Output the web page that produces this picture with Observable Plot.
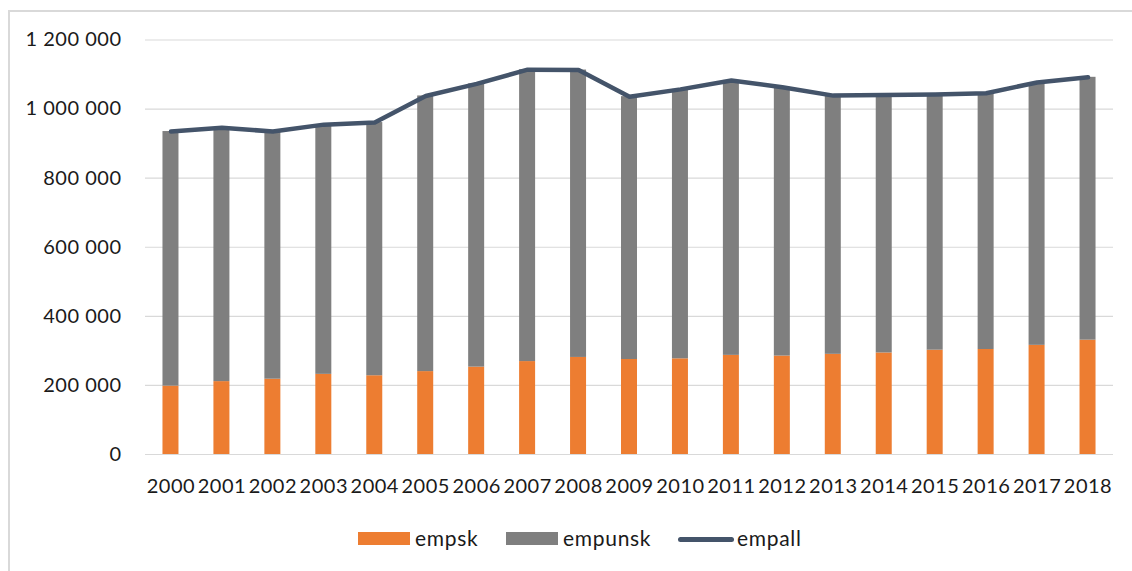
<!DOCTYPE html>
<html>
<head>
<meta charset="utf-8">
<script src="https://cdn.jsdelivr.net/npm/d3@7"></script>
<script src="https://cdn.jsdelivr.net/npm/@observablehq/plot@0.6"></script>
<style>
  html, body { margin: 0; padding: 0; background: #fff; overflow: hidden; }
  body { width: 1132px; height: 571px; position: relative; font-family: Lato, "Open Sans", sans-serif; }
  .frame { position: absolute; left: 8px; top: 10px; width: 1200px; height: 700px;
           border: 2px solid #d9d9d9; box-sizing: border-box; }
  #chart { position: absolute; left: 0; top: 0; }
  #chart svg text { letter-spacing: 0.5px; }
  .legend { position: absolute; top: 0; left: 0; width: 1132px; height: 571px; pointer-events: none; }
  .sw { position: absolute; }
  .lab { position: absolute; font-size: 21px; letter-spacing: 0.7px; color: #1a1a1a; line-height: 1; }
</style>
</head>
<body>
<div class="frame"></div>
<div id="chart"></div>
<div class="legend">
  <div class="sw" style="left:358px; top:532px; width:52px; height:13px; background:#ED7D31"></div>
  <div class="lab" style="left:415px; top:527px">empsk</div>
  <div class="sw" style="left:506px; top:532px; width:52px; height:13px; background:#7F7F7F"></div>
  <div class="lab" style="left:563px; top:527px">empunsk</div>
  <div class="sw" style="left:678px; top:537px; width:56px; height:5px; border-radius:3px; background:#44546A"></div>
  <div class="lab" style="left:737px; top:527px">empall</div>
</div>
<script>
// Employment by skill group, 2000–2018
const years = ["2000","2001","2002","2003","2004","2005","2006","2007","2008","2009",
               "2010","2011","2012","2013","2014","2015","2016","2017","2018"];
const empsk = [198000, 211000, 218000, 232000, 228000, 240000, 253000, 269000, 281000, 275000,
               277000, 287000, 285000, 290000, 294000, 302000, 304000, 316000, 331000];
const empunsk = [737000, 735000, 717000, 723000, 733000, 798000, 820000, 845000, 832000, 761000,
                 780000, 796000, 778000, 749000, 747000, 740000, 742000, 761000, 761000];
const empall = [935000, 946000, 935000, 955000, 961000, 1038000, 1073000, 1114000, 1113000, 1036000,
                1057000, 1083000, 1063000, 1039000, 1041000, 1042000, 1046000, 1077000, 1092000];
const yTicks = [0, 200000, 400000, 600000, 800000, 1000000, 1200000];

const seriesNames = ["empsk", "empunsk"];
const seriesColors = ["#ED7D31", "#7F7F7F"];

// long table for the stacked bars: skilled at the bottom, unskilled on top
const stacked = [];
years.forEach((year, i) => {
  stacked.push({year, series: "empsk", value: empsk[i]});
  stacked.push({year, series: "empunsk", value: empunsk[i]});
});
const totals = years.map((year, i) => ({year, value: empall[i]}));

const fmt = d => d3.format(",")(d).replace(/,/g, " ");

const chart = Plot.plot({
  width: 1132,
  height: 510,
  marginLeft: 145,
  marginRight: 19,
  marginTop: 39.5,
  marginBottom: 56,
  style: {fontFamily: "Lato, 'Open Sans', sans-serif", fontSize: "20px", color: "#1a1a1a", background: "transparent"},
  x: {type: "band", domain: years, round: false, paddingInner: 0.686, paddingOuter: 0.343, label: null,
      tickSize: 0, tickPadding: 24.5},
  y: {domain: [0, 1200000], ticks: yTicks, tickFormat: fmt, label: null, tickSize: 0, tickPadding: 24},
  color: {domain: seriesNames, range: seriesColors},
  marks: [
    Plot.ruleY(yTicks, {stroke: "#d9d9d9", strokeWidth: 1.2}),
    Plot.barY(stacked, {x: "year", y: "value", fill: "series", order: seriesNames}),
    Plot.line(totals, {x: "year", y: "value", stroke: "#44546A", strokeWidth: 4.5,
                       strokeLinecap: "round", strokeLinejoin: "round"})
  ]
});
document.getElementById("chart").appendChild(chart);
</script>
</body>
</html>
